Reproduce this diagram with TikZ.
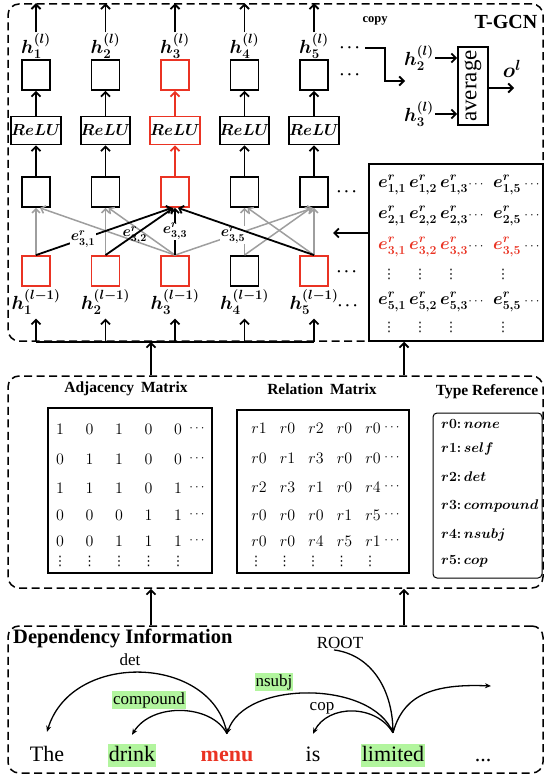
\RequirePackage{fix-cm}
\documentclass[tikz,border=0pt]{standalone}
\usepackage{amsmath}
\usepackage{fontspec}
\setmainfont{Liberation Serif}
\newfontfamily\glyphfont{DejaVu Sans}
\usetikzlibrary{arrows.meta,calc}

\definecolor{hotred}{RGB}{234,51,35}
\definecolor{edgegray}{RGB}{158,158,158}
\definecolor{markgreen}{RGB}{178,245,158}
\newcommand{\setfs}[1]{\fontsize{#1}{#1}\selectfont}

\tikzset{
  panel/.style={draw, line width=1.5pt, dash pattern=on 8pt off 4.5pt,
    rounded corners=11pt, inner sep=0pt},
  cell/.style={draw, line width=1.8pt, minimum width=28pt, minimum height=30pt, inner sep=0pt},
  relubox/.style={draw, line width=1.8pt, minimum width=47pt, minimum height=28pt,
    inner sep=0pt, font=\boldmath\setfs{16}},
  flow/.style={line width=1.8pt, -{Straight Barb[length=4.5pt,width=9pt]}},
  gedge/.style={line width=1.5pt, draw=edgegray, -{Straight Barb[length=4pt,width=8pt]}},
  bedge/.style={line width=1.8pt, -{Straight Barb[length=4pt,width=8pt]}},
  hlab/.style={font=\boldmath\setfs{19}, inner sep=1pt},
  elab/.style={font=\boldmath\setfs{15}, inner sep=0.5pt},
  ment/.style={font=\boldmath\setfs{17.5}, inner sep=0pt},
  ellip/.style={font=\boldmath\setfs{15}, inner sep=0pt},
  thindots/.style={font=\setfs{13}, inner sep=0pt},
  vdotcell/.style={font=\glyphfont\setfs{13}, inner sep=0pt},
  headtxt/.style={font=\bfseries\setfs{15.5}, inner sep=0pt},
  numcell/.style={font=\setfs{16}, inner sep=0pt},
  typeent/.style={font=\boldmath\setfs{14}, anchor=west, inner sep=0pt},
  word/.style={font=\setfs{22}, anchor=base, text height=16pt, text depth=5pt, inner sep=1pt},
  dlab/.style={font=\setfs{17}, inner sep=1pt},
  deparc/.style={line width=1.3pt, -{Stealth[length=6pt,width=5pt]}},
}

\begin{document}
\begin{tikzpicture}[x=1pt,y=-1pt]
\useasboundingbox (0,0) rectangle (546,776);

% ---------- the three dashed panels ----------
\node[panel, minimum width=535pt, minimum height=337pt] (tgcn) at (275.5,172.5) {};
\node[panel, minimum width=535pt, minimum height=212pt] (mid) at (275.5,482) {};
\node[panel, minimum width=535pt, minimum height=147pt] (deppanel) at (275.5,699.5) {};

% ---------- T-GCN layer: five columns ----------
\foreach \i/\x/\tc/\bc in {1/36/black/hotred, 2/105.5/black/hotred, 3/175/hotred/hotred,
                           4/244.5/black/black, 5/314/black/hotred}{
  \node[cell, draw=\tc] (t\i) at (\x,75) {};
  \node[relubox, draw=\tc] (relu\i) at (\x,130.5) {$ReLU$};
  \node[cell, draw=\tc] (m\i) at (\x,192) {};
  \node[cell, draw=\bc] (b\i) at (\x,271) {};
  \node[hlab] (hl\i) at (\x,46) {$h_{\i}^{(l)}$};
  \node[hlab] (hp\i) at (\x,302) {$h_{\i}^{(l-1)}$};
  \draw[flow] (hl\i.north) -- (hl\i |- tgcn.north);
  \draw[flow, draw=\tc] (relu\i) -- (t\i);
  \draw[flow, draw=\tc] (m\i) -- (relu\i);
  \draw[flow, shorten >=3pt] (hp\i |- tgcn.south) -- (hp\i.south);
}
\draw[line width=1.8pt] (hp1 |- tgcn.south) -- (hp5 |- tgcn.south);

% gray relation edges
\draw[gedge] (b1) -- (m1);
\draw[gedge] (b2) -- (m2);
\draw[gedge] (b4) -- (m4);
\draw[gedge] (b5) -- (m5);
\draw[gedge] (b3.north) -- ([xshift=4pt]m1.south);
\draw[gedge] (b3.north) -- ([xshift=3pt]m2.south);
\draw[gedge] (b4.north) -- ([xshift=-3pt]m5.south);
\draw[gedge] (b5.north) -- ([xshift=3pt]m4.south);
\draw[gedge] (b3.north) -- node[elab, fill=white, pos=0.42] (l35) {$e^{r}_{3,5}$} ([xshift=-1pt]m5.south);

% black edges into node 3
\draw[bedge] (b1.north) -- node[elab, fill=white, pos=0.345] (l31) {$e^{r}_{3,1}$} ([xshift=-3pt]m3.south);
\draw[bedge] (b2.north) -- node[elab, pos=0.43] (l32) {$e^{r}_{3,2}$} ([xshift=-1.5pt]m3.south);
\draw[bedge] (b3) -- node[elab, fill=white] (l33) {$e^{r}_{3,3}$} (m3);
\draw[bedge] (b5.north) -- ([xshift=3pt]m3.south);

% continuation dots
\node[ellip] (dA) at (351,48) {$\cdots$};
\node[ellip] (dB) at (351,75) {$\cdots$};
\node[ellip] (dC) at (348,192) {$\cdots$};
\node[ellip] (dD) at (348,272) {$\cdots$};
\node[ellip] (dE) at (349,306) {$\cdots$};

% copy and average
\node[font=\bfseries\setfs{12.5}, inner sep=0pt] (copylab) at (375,21) {copy};
\node[font=\bfseries\setfs{20}, inner sep=0pt] (tgcnlab) at (506,22) {T-GCN};
\coordinate (cpa) at (365,48);
\coordinate (cpb) at (405,81);
\draw[flow] (cpa) -| ($(cpa)!0.5!(cpb)$) |- (cpb);

\node[draw, line width=1.8pt, minimum width=30pt, minimum height=78pt, inner sep=0pt] (avg) at (473,86) {};
\node[rotate=90, font=\setfs{23}, inner sep=0pt] (avgtxt) at (avg) {average};
\node[hlab] (a2) at (419,58) {$h_{2}^{(l)}$};
\node[hlab] (a3) at (419,114) {$h_{3}^{(l)}$};
\draw[flow] (a2.east) -- (a2.east -| avg.west);
\draw[flow] (a3.east) -- (a3.east -| avg.west);
\coordinate (oend) at (514,88);
\draw[flow] (avg.east |- oend) -- (oend);
\node[font=\boldmath\setfs{21}, inner sep=0pt] (olab) at (512,69) {$o^{l}$};

% relation-edge matrix
\node[draw, line width=1.5pt, fill=white, minimum width=174pt, minimum height=177pt, inner sep=0pt] (emat) at (456,252.5) {};
\foreach \r/\y/\c in {1/185/black, 2/216/black, 3/247/hotred, 5/302/black}{
  \foreach \j/\x in {1/392, 2/423, 3/454, 5/507}{
    \node[ment, text=\c] (e\r-\j) at (\x,\y) {$e^{r}_{\r,\j}$};
  }
  \node[thindots] (ec\r-a) at (477,\y) {$\cdots$};
  \node[thindots] (ec\r-b) at (533,\y) {$\cdots$};
}
\foreach \j/\x in {1/389, 2/420, 3/451, 5/503}{
  \node[vdotcell] (ev4-\j) at (\x,274) {⋮};
  \node[vdotcell] (ev6-\j) at (\x,327) {⋮};
}
\coordinate (ein) at (333,233);
\draw[flow] (emat.west |- ein) -- (ein);

% links between panels
\coordinate (linkL) at (151,0);
\coordinate (linkR) at (404,0);
\draw[flow] (mid.north -| linkL) -- (tgcn.south -| linkL);
\draw[flow] (mid.north -| linkR) -- (emat.south -| linkR);
\draw[flow] (deppanel.north -| linkL) -- (mid.south -| linkL);
\draw[flow] (deppanel.north -| linkR) -- (mid.south -| linkR);

% ---------- matrices ----------
\node[headtxt] (hadj) at (126,389) {Adjacency\hspace{0.45em}Matrix};
\node[headtxt] (hrel) at (322,389) {Relation\hspace{0.45em}Matrix};
\node[headtxt] (htyp) at (487,392) {Type Reference};

\node[draw, line width=1.3pt, minimum width=164pt, minimum height=165pt, inner sep=0pt] (adjbox) at (130,490.5) {};
\node[draw, line width=1.3pt, minimum width=172pt, minimum height=163pt, inner sep=0pt] (relbox) at (323,491.5) {};
\node[draw, line width=1pt, rounded corners=4pt, minimum width=109pt, minimum height=165pt, inner sep=0pt] (typebox) at (487.5,495.5) {};

\foreach \r/\y/\vals in {1/429/{1,0,1,0,0}, 2/459/{0,1,1,0,0}, 3/488/{1,1,1,0,1},
                         4/515/{0,0,0,1,1}, 5/541/{0,0,1,1,1}}{
  \foreach \v [count=\c] in \vals{
    \node[numcell] (adj\r-\c) at ({60+(\c-1)*29.5},\y) {$\v$};
  }
  \node[thindots] (adjd\r) at (198,\y) {$\cdots$};
}
\foreach \r/\y/\vals in {1/428/{1,0,2,0,0}, 2/458/{0,1,3,0,0}, 3/487/{2,3,1,0,4},
                         4/515/{0,0,0,1,5}, 5/541/{0,0,4,5,1}}{
  \foreach \v [count=\c] in \vals{
    \node[numcell] (rel\r-\c) at ({259+(\c-1)*28.5},\y) {$r\v$};
  }
  \node[thindots] (reld\r) at (393,\y) {$\cdots$};
}
\foreach \c in {1,...,5}{
  \node[vdotcell] (adjv\c) at ({60+(\c-1)*29.5},561) {⋮};
  \node[vdotcell] (relv\c) at ({256+(\c-1)*28.5},561) {⋮};
}
\foreach \k/\y/\nm in {0/424/none, 1/449/self, 2/477/det, 3/506/compound, 4/535/nsubj, 5/561/cop}{
  \node[typeent] (tr\k) at (441,\y) {$r\k{:}\,\nm$};
}

% ---------- dependency information ----------
\node[font=\bfseries\setfs{20.5}, anchor=west, inner sep=0pt] (depttl) at (13,638) {Dependency Information};

\node[word] (wthe) at (47,761) {The};
\node[word, fill=markgreen] (wdrink) at (132,761) {drink};
\node[word, text=hotred, font=\bfseries\setfs{22}] (wmenu) at (227,761) {menu};
\node[word] (wis) at (313,761) {is};
\node[word, fill=markgreen] (wlim) at (393,761) {limited};
\node[word] (wdots) at (483,761) {...};

\coordinate (pthe) at ([yshift=12pt]wthe.north);
\coordinate (pdrink) at ([yshift=9pt]wdrink.north);
\coordinate (pmenu) at ([yshift=10pt]wmenu.north);
\coordinate (pis) at ([yshift=10pt]wis.north);
\coordinate (plim) at ([yshift=11pt]wlim.north);
\coordinate (pout) at (491,686);

\node[dlab] (lroot) at (340,643) {ROOT};

\draw[deparc] (pmenu) .. controls (213,655) and (72,650) .. (pthe);
\draw[deparc] (pmenu) .. controls (212,704) and (152,702) .. (pdrink);
\draw[deparc] (plim) .. controls (372,680) and (245,680) .. (pmenu);
\draw[deparc] (plim) .. controls (376,704) and (328,704) .. (pis);
\draw[deparc] (plim) .. controls (402,700) and (425,683) .. (pout);
\draw[deparc] ([xshift=-6pt]lroot.south) .. controls (372,655) and (392,690) .. (plim);

\node[dlab] (ldet) at (130,660) {det};
\node[dlab, fill=markgreen] (lcomp) at (149,700) {compound};
\node[dlab, fill=markgreen] (lnsubj) at (274,682) {nsubj};
\node[dlab] (lcop) at (322,708) {cop};
\end{tikzpicture}
\end{document}
